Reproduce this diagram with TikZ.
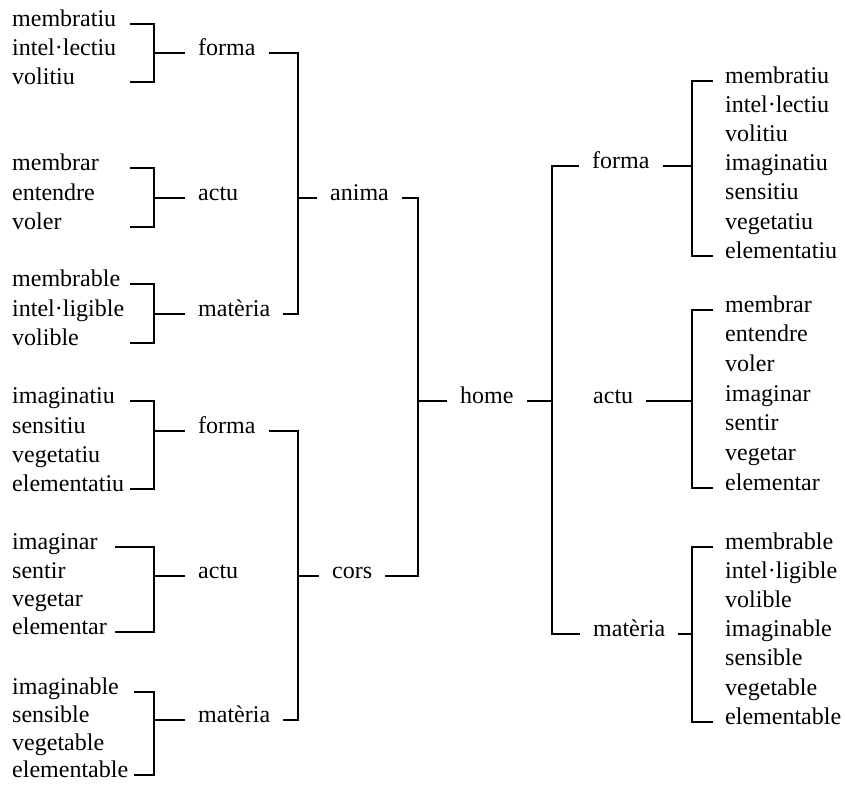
\documentclass[tikz,border=0pt]{standalone}
\usepackage{fontspec}
\setmainfont{Liberation Serif}
\begin{document}
\begin{tikzpicture}[x=1pt,y=-1pt,
  item/.style={anchor=mid west, inner sep=0pt, font=\fontsize{24}{29}\selectfont},
  lab/.style={anchor=mid west, inner xsep=13pt, inner ysep=0pt, font=\fontsize{24}{29}\selectfont},
  br/.style={line width=2.4pt}]
\useasboundingbox (0,0) rectangle (845,788);
% x positions of bracket lines
\coordinate (xa) at (130,0);
\coordinate (xa5) at (115,0);
\coordinate (xa6) at (134,0);
\coordinate (xb) at (154,0);
\coordinate (xc) at (298,0);
\coordinate (xd) at (418,0);
\coordinate (xe) at (552,0);
\coordinate (xf) at (692,0);
\coordinate (xg) at (713,0);
% left items
\node[item] (a1) at (12,24) {membratiu};
\node[item] (a2) at (12,53) {intel·lectiu};
\node[item] (a3) at (12,82) {volitiu};
\node[item] (b1) at (12,168) {membrar};
\node[item] (b2) at (12,198) {entendre};
\node[item] (b3) at (12,227) {voler};
\node[item] (c1) at (12,284) {membrable};
\node[item] (c2) at (12,314) {intel·ligible};
\node[item] (c3) at (12,343) {volible};
\node[item] (d1) at (12,401) {imaginatiu};
\node[item] (d2) at (12,431) {sensitiu};
\node[item] (d3) at (12,460) {vegetatiu};
\node[item] (d4) at (12,489) {elementatiu};
\node[item] (e1) at (12,547) {imaginar};
\node[item] (e2) at (12,576) {sentir};
\node[item] (e3) at (12,604) {vegetar};
\node[item] (e4) at (12,632) {elementar};
\node[item] (g1) at (12,692) {imaginable};
\node[item] (g2) at (12,720) {sensible};
\node[item] (g3) at (12,748) {vegetable};
\node[item] (g4) at (12,775) {elementable};
% left labels
\node[lab] (fa) at (185,53) {forma};
\node[lab] (aa) at (185,198) {actu};
\node[lab] (ma) at (185,314) {matèria};
\node[lab] (fc) at (185,431) {forma};
\node[lab] (ac) at (185,576) {actu};
\node[lab] (mc) at (185,720) {matèria};
\node[lab] (an) at (317,198) {anima};
\node[lab] (co) at (319,576) {cors};
\node[lab] (ho) at (447,401) {home};
% right labels
\node[lab] (rf) at (579,166) {forma};
\node[lab] (ra) at (580,401) {actu};
\node[lab] (rm) at (580,634) {matèria};
% right items
\foreach \t [count=\i] in {membratiu,intel·lectiu,volitiu,imaginatiu,sensitiu,vegetatiu,elementatiu}
  \node[item] (p\i) at (725,{81+29.17*(\i-1)}) {\t};
\foreach \t [count=\i] in {membrar,entendre,voler,imaginar,sentir,vegetar,elementar}
  \node[item] (q\i) at (725,{310+29.67*(\i-1)}) {\t};
\foreach \t [count=\i] in {membrable,intel·ligible,volible,imaginable,sensible,vegetable,elementable}
  \node[item] (s\i) at (725,{547+29.17*(\i-1)}) {\t};
% left brackets
\draw[br] (a1.mid -| xa) -- (a1.mid -| xb) -- (a3.mid -| xb) -- (a3.mid -| xa);
\draw[br] (a2.mid -| xb) -- (fa.mid west);
\draw[br] (b1.mid -| xa) -- (b1.mid -| xb) -- (b3.mid -| xb) -- (b3.mid -| xa);
\draw[br] (b2.mid -| xb) -- (aa.mid west);
\draw[br] (c1.mid -| xa) -- (c1.mid -| xb) -- (c3.mid -| xb) -- (c3.mid -| xa);
\draw[br] (c2.mid -| xb) -- (ma.mid west);
\draw[br] (d1.mid -| xa) -- (d1.mid -| xb) -- (d4.mid -| xb) -- (d4.mid -| xa);
\draw[br] (d2.mid -| xb) -- (fc.mid west);
\draw[br] (e1.mid -| xa5) -- (e1.mid -| xb) -- (e4.mid -| xb) -- (e4.mid -| xa5);
\draw[br] (e2.mid -| xb) -- (ac.mid west);
\draw[br] (g1.mid -| xa6) -- (g1.mid -| xb) -- (g4.mid -| xb) -- (g4.mid -| xa6);
\draw[br] (g2.mid -| xb) -- (mc.mid west);
% second level
\draw[br] (fa.mid east) -- (fa.mid east -| xc) -- (ma.mid east -| xc) -- (ma.mid east);
\draw[br] (aa.mid -| xc) -- (an.mid west);
\draw[br] (fc.mid east) -- (fc.mid east -| xc) -- (mc.mid east -| xc) -- (mc.mid east);
\draw[br] (ac.mid -| xc) -- (co.mid west);
% third level
\draw[br] (an.mid east) -- (an.mid east -| xd) -- (co.mid east -| xd) -- (co.mid east);
\draw[br] (ho.mid -| xd) -- (ho.mid west);
% right side
\draw[br] (rf.mid west) -- (rf.mid west -| xe) -- (rm.mid west -| xe) -- (rm.mid west);
\draw[br] (ho.mid east) -- (ho.mid east -| xe);
\draw[br] (p1.mid -| xg) -- (p1.mid -| xf) -- (p7.mid -| xf) -- (p7.mid -| xg);
\draw[br] (rf.mid east) -- (rf.mid east -| xf);
\draw[br] (q1.mid -| xg) -- (q1.mid -| xf) -- (q7.mid -| xf) -- (q7.mid -| xg);
\draw[br] (ra.mid east) -- (ra.mid east -| xf);
\draw[br] (s1.mid -| xg) -- (s1.mid -| xf) -- (s7.mid -| xf) -- (s7.mid -| xg);
\draw[br] (rm.mid east) -- (rm.mid east -| xf);
\end{tikzpicture}
\end{document}
